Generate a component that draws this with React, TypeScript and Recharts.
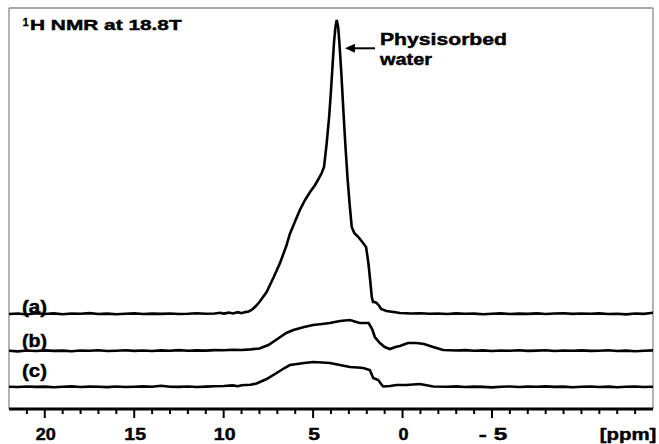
import React from 'react';
import { LineChart, Line, XAxis, YAxis, ReferenceLine } from 'recharts';

// chemical shift (ppm) vs. intensity for the three spectra
const traceA: [number, number][] = [
  [22, 0], [21.5, 0.5], [21, -0.5], [20.5, 0.8], [20, 0], [19.5, 0.6], [19, -0.3], [18.5, 0.5], [18, 0.2],
  [17.5, 0.9], [17, 0], [16.5, 0.4], [16, -0.2], [15.5, 0.3], [15, 0.6], [14.5, 0], [14, 0.4], [13.5, 0.1],
  [13, 0.5], [12.5, 0], [12, 0.3], [11.5, 0.8], [11, 0.2], [10.5, 0.5], [10.2, 1.2], [10, 0.4], [9.7, 1.4],
  [9.5, 0.6], [9.2, 1.8], [9, 0.8], [8.8, 1.9], [8.6, 2.5], [8.4, 4.5], [8.2, 8], [8, 12], [7.6, 22],
  [7.2, 37], [6.85, 51], [6.5, 68], [6.3, 80], [6.0, 93], [5.74, 104], [5.45, 114], [5.17, 122], [4.89, 129],
  [4.7, 135], [4.52, 141], [4.39, 147], [4.24, 171], [4.1, 198], [4.01, 221], [3.9, 252], [3.83, 272],
  [3.75, 287], [3.68, 294], [3.6, 287], [3.53, 271], [3.42, 240], [3.31, 204], [3.2, 170], [3.08, 137],
  [2.96, 110], [2.84, 87], [2.7, 81], [2.47, 77], [2.25, 72], [2.04, 67], [1.91, 51], [1.8, 32], [1.72, 17],
  [1.65, 12], [1.55, 12], [1.45, 11], [1.3, 8], [1.2, 5], [0.9, 3], [0.5, 2], [0.15, 1], [-0.5, 0.5],
  [-1, 0.8], [-1.5, 0.2], [-2, 0.5], [-2.5, 0], [-3, 0.6], [-3.5, 0.2], [-4, 0.4], [-4.5, -0.3], [-5, 0.2],
  [-5.5, 0.6], [-6, 0], [-6.5, 0.4], [-7, 0.1], [-7.5, 0.6], [-8, 0], [-8.5, 0.5], [-9, 0.8], [-9.5, 0.1],
  [-10, 0.5], [-10.5, 0.2], [-11, 0.6], [-11.5, 0], [-12, 0.3], [-12.5, -0.4], [-13, 0.5], [-13.5, 0.1],
  [-14, 1.2],
];

const traceB: [number, number][] = [
  [22, 0.3], [21.5, -0.4], [21, 0.5], [20.5, 0], [20, 0.6], [19.5, 0.1], [19, 0.4], [18.5, -0.3], [18, 0.5],
  [17.5, 0.2], [17, 0.8], [16.5, 0], [16, 0.3], [15.5, 0.7], [15, 0.1], [14.5, 0.5], [14, 0], [13.5, 0.6],
  [13, 0.3], [12.5, 0.9], [12, 0.2], [11.5, 0.6], [11, 0.4], [10.5, 0.9], [10, 0.7], [9.5, 1.2], [9, 1.0],
  [8.5, 1.6], [8.0, 2.5], [7.5, 6], [7.0, 12], [6.5, 18], [6.1, 21], [5.5, 24], [5.0, 26], [4.5, 27],
  [4.06, 28], [3.5, 30], [2.94, 31], [2.4, 28], [1.9, 28], [1.7, 22], [1.55, 14], [1.27, 8], [1.0, 4],
  [0.71, 2], [0.4, 4], [0.15, 5], [-0.3, 8], [-0.78, 8], [-1.2, 7], [-1.71, 4], [-2.27, 1], [-3, 0.5],
  [-3.5, 0.9], [-4, 0.2], [-4.5, 0.6], [-5, 0], [-5.5, 0.5], [-6, 0.3], [-6.5, 0.8], [-7, 0.1], [-7.5, 0.4],
  [-8, 0.7], [-8.5, 0], [-9, 0.5], [-9.5, 0.2], [-10, 0.6], [-10.5, 0.1], [-11, 0.3], [-11.5, 0.7], [-12, 0],
  [-12.5, 0.4], [-13, -0.3], [-13.5, 0.2], [-14, 0.6],
];

const traceC: [number, number][] = [
  [22, 0.2], [21.5, 0], [21, 0.5], [20.5, 0.1], [20, 0.4], [19.5, -0.2], [19, 0.3], [18.5, 0.6], [18, 0],
  [17.5, 0.4], [17, 0.2], [16.5, -0.1], [16, 0.5], [15.5, 0], [15, 0.3], [14.5, 0.6], [14, 0.2], [13.5, 1.3],
  [13, 0.3], [12.5, 0.1], [12, 0.5], [11.5, 0], [11, 0.4], [10.5, 0.8], [10, 1.0], [9.5, 1.6], [9.2, 0.8],
  [9, 1.8], [8.5, 2.2], [8.16, 3.5], [7.6, 8], [7.04, 14], [6.6, 19], [6.3, 22], [5.5, 24], [5.0, 25],
  [4.5, 24.5], [4.06, 24], [3.5, 22], [2.94, 20], [2.5, 19.5], [2.2, 19], [1.83, 17], [1.64, 9], [1.36, 7],
  [1.2, 3], [1.08, 0.5], [0.7, 1], [0.34, 2], [-0.2, 2], [-0.97, 3], [-1.71, 0.5], [-2.5, 0.2], [-3, 0.6],
  [-3.5, 0], [-4, 0.4], [-4.5, 0.1], [-5, -0.4], [-5.5, 0.3], [-6, 0.5], [-6.5, 0], [-7, 0.4], [-7.5, 0.2],
  [-8, 0.6], [-8.5, 0.1], [-9, 0.4], [-9.5, -0.2], [-10, 0.3], [-10.5, 0.5], [-11, 0], [-11.5, 0.4],
  [-12, -0.3], [-12.5, 0.2], [-13, 0.5], [-13.5, 0], [-14, 0.2],
];

// vertical stacking offsets of the spectra
const offsets = { a: 73, b: 36, c: 0 };

const tickValues: number[] = [];
for (let v = -13; v <= 21; v++) tickValues.push(v);
const majorTicks = [20, 15, 10, 5, 0, -5];
const tickLabels: Record<number, string> = { 20: '20', 15: '15', 10: '10', 5: '5', 0: '0', [-5]: '- 5' };
const labelWidths: Record<number, number> = { 20: 20, 15: 21.7, 10: 21.7, 5: 11.7, 0: 10, [-5]: 28.3 };

const FONT = '"Liberation Sans", Arial, Helvetica, sans-serif';

const toRows = (t: [number, number][], off: number) => t.map(([x, y]) => ({ x, y: y + off }));

const dataA = toRows(traceA, offsets.a);
const dataB = toRows(traceB, offsets.b);
const dataC = toRows(traceC, offsets.c);

const heavy = { stroke: '#000', strokeWidth: 0.45 };

const Tick = (props: any) => {
  const { x, y, payload } = props;
  const v = payload.value;
  const major = majorTicks.includes(v);
  return (
    <g>
      <line x1={x} x2={x} y1={y} y2={y + (major ? 9 : 5)} stroke="#000" strokeWidth={2} />
      {major && (
        <text
          x={x + 1}
          y={y + 31}
          textAnchor="middle"
          fontFamily={FONT}
          fontWeight="bold"
          fontSize={16.5}
          fill="#000"
          {...heavy}
          textLength={labelWidths[v]}
          lengthAdjust="spacingAndGlyphs"
        >
          {tickLabels[v]}
        </text>
      )}
    </g>
  );
};

const PpmLabel = (props: any) => {
  const vb = props.viewBox || { x: 9, y: 409, width: 644 };
  return (
    <text
      x={vb.x + vb.width - 25}
      y={vb.y + 31}
      textAnchor="middle"
      fontFamily={FONT}
      fontWeight="bold"
      fontSize={16.5}
      fill="#000"
      {...heavy}
      textLength={56.7}
      lengthAdjust="spacingAndGlyphs"
    >
      [ppm]
    </text>
  );
};

export default function App() {
  const txt = { fontFamily: FONT, fontWeight: 'bold' as const, fill: '#000', ...heavy };
  return (
    <div style={{ position: 'absolute', left: 0, top: 0, width: 659, height: 444, background: '#fff' }}>
      <LineChart width={659} height={444} margin={{ top: 8, right: 6, bottom: 0, left: 9 }}>
        <XAxis
          dataKey="x"
          type="number"
          domain={[-14, 22]}
          reversed
          allowDataOverflow
          ticks={tickValues}
          interval={0}
          height={35}
          tickSize={0}
          tickMargin={0}
          tickLine={false}
          axisLine={{ stroke: '#000', strokeWidth: 3 }}
          tick={<Tick />}
          label={<PpmLabel />}
        />
        <YAxis type="number" domain={[-22, 379]} hide allowDataOverflow />
        <ReferenceLine x={22} stroke="#8a8a8a" strokeWidth={1.3} />
        <ReferenceLine x={-14} stroke="#8a8a8a" strokeWidth={1.3} />
        <ReferenceLine y={379} stroke="#8a8a8a" strokeWidth={1.3} />
        <Line data={dataC} dataKey="y" stroke="#000" strokeWidth={2.6} dot={false} isAnimationActive={false} type="linear" />
        <Line data={dataB} dataKey="y" stroke="#000" strokeWidth={2.6} dot={false} isAnimationActive={false} type="linear" />
        <Line data={dataA} dataKey="y" stroke="#000" strokeWidth={2.6} dot={false} isAnimationActive={false} type="linear" />
      </LineChart>
      <svg width={659} height={444} style={{ position: 'absolute', left: 0, top: 0, pointerEvents: 'none' }}>
        <text x={22.7} y={25.5} fontSize={10.5} {...txt}>1</text>
        <text x={30} y={29.5} fontSize={15.5} textLength={151.7} lengthAdjust="spacingAndGlyphs" {...txt}>
          H NMR at 18.8T
        </text>
        <text x={380} y={45} fontSize={16.5} textLength={127} lengthAdjust="spacingAndGlyphs" {...txt}>
          Physisorbed
        </text>
        <text x={380} y={65} fontSize={16.5} textLength={52} lengthAdjust="spacingAndGlyphs" {...txt}>
          water
        </text>
        <line x1={354} y1={48.3} x2={375} y2={48.3} stroke="#000" strokeWidth={2} />
        <polygon points="345,48.3 355,43.8 355,52.8" fill="#000" />
        <text x={22} y={313} fontSize={17.5} textLength={25} lengthAdjust="spacingAndGlyphs" {...txt}>(a)</text>
        <text x={22} y={347} fontSize={17.5} textLength={25} lengthAdjust="spacingAndGlyphs" {...txt}>(b)</text>
        <text x={22} y={377} fontSize={17.5} textLength={25} lengthAdjust="spacingAndGlyphs" {...txt}>(c)</text>
      </svg>
    </div>
  );
}
